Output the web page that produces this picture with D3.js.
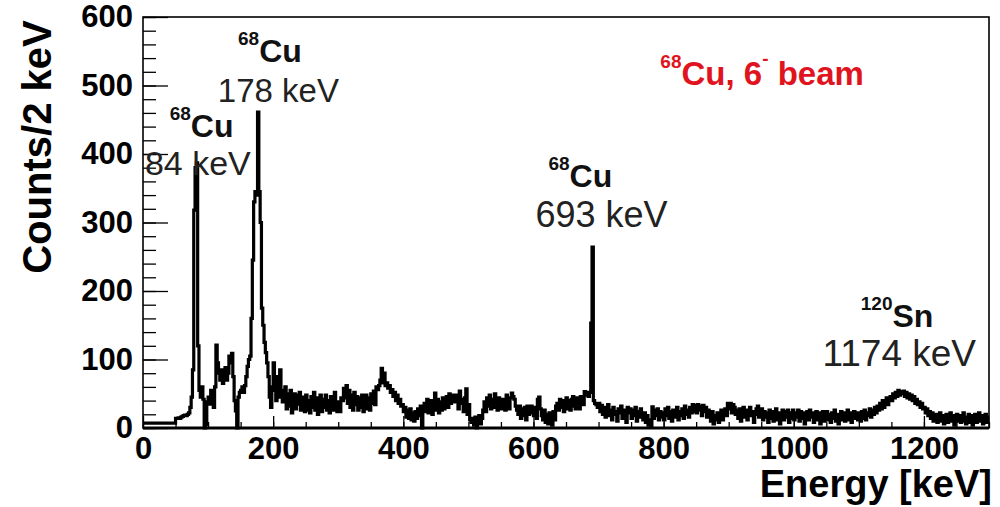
<!DOCTYPE html>
<html>
<head>
<meta charset="utf-8">
<script src="https://cdn.jsdelivr.net/npm/d3@7/dist/d3.min.js"></script>
<style>
  body { margin: 0; background: #fff; }
  svg { display: block; font-family: "Liberation Sans", Arial, Helvetica, sans-serif; }
</style>
</head>
<body>
<svg id="chart" width="1000" height="507"></svg>
<script>
// gamma spectrum, 2 keV bins starting at 0 keV (one row = 50 keV)
const binWidth = 2
const counts = [
  7, 7, 7, 7, 7, 7, 7, 7, 7, 7, 7, 7, 7, 7, 7, 7, 7, 7, 7, 7, 7, 7, 7, 7, 7,
  14, 14, 15, 14, 16, 17, 18, 19, 18, 20, 22, 30, 45, 85, 318, 380, 387, 120, 55, 45, 60, 42, 0, 5, 38,
  45, 35, 55, 40, 30, 60, 121, 95, 80, 70, 85, 65, 78, 88, 70, 80, 105, 95, 109, 75, 40, 25, 0, 45, 52,
  55, 60, 52, 62, 75, 90, 100, 105, 160, 245, 330, 345, 340, 461, 345, 300, 175, 150, 125, 110, 95, 75, 45, 30, 60,
  95, 55, 40, 75, 45, 85, 55, 38, 48, 60, 28, 50, 32, 55, 22, 45, 50, 28, 48, 35, 52, 26, 45, 32, 24,
  48, 26, 40, 22, 46, 30, 52, 26, 44, 20, 38, 48, 24, 42, 30, 48, 26, 40, 22, 46, 32, 26, 52, 34, 24,
  38, 24, 44, 40, 58, 44, 62, 36, 55, 30, 48, 26, 52, 34, 46, 26, 44, 30, 48, 24, 40, 48, 28, 44, 26,
  50, 36, 54, 34, 60, 56, 62, 70, 87, 66, 80, 62, 66, 58, 62, 52, 56, 46, 52, 40, 48, 36, 42, 32, 34,
  24, 30, 16, 26, 14, 28, 12, 22, 10, 24, 14, 28, 18, 32, 0, 26, 36, 24, 42, 22, 34, 40, 20, 38, 51,
  26, 42, 22, 38, 26, 44, 28, 40, 46, 30, 50, 36, 40, 48, 38, 42, 48, 28, 54, 36, 42, 24, 44, 57, 20,
  34, 12, 8, 14, 4, 16, 0, 12, 18, 6, 14, 26, 38, 24, 44, 32, 48, 28, 42, 30, 50, 34, 26, 44, 32,
  28, 42, 32, 26, 48, 34, 28, 44, 51, 46, 42, 32, 26, 20, 32, 14, 28, 18, 30, 12, 32, 20, 26, 32, 22,
  18, 30, 14, 42, 45, 28, 18, 12, 26, 8, 20, 6, 22, 10, 4, 24, 12, 32, 36, 26, 42, 30, 40, 24, 36,
  44, 28, 40, 26, 42, 46, 32, 28, 44, 36, 28, 46, 38, 34, 53, 48, 52, 46, 52, 153, 264, 40, 36, 34, 30,
  36, 24, 33, 20, 30, 16, 28, 34, 18, 26, 12, 30, 20, 24, 10, 28, 22, 32, 14, 26, 18, 8, 30, 22, 28,
  14, 26, 18, 30, 10, 24, 16, 28, 20, 12, 22, 8, 18, 4, 12, 2, 31, 14, 26, 18, 28, 12, 24, 16, 22,
  12, 28, 18, 30, 14, 24, 10, 26, 20, 16, 30, 12, 24, 18, 28, 14, 32, 20, 26, 16, 30, 22, 34, 24, 33,
  22, 34, 26, 32, 18, 33, 24, 30, 16, 26, 20, 10, 24, 6, 18, 12, 22, 8, 20, 26, 12, 22, 28, 18, 36,
  28, 36, 22, 34, 30, 20, 26, 14, 28, 10, 24, 30, 16, 26, 12, 22, 30, 18, 24, 8, 20, 28, 32, 16, 22,
  28, 12, 24, 16, 22, 8, 26, 14, 24, 10, 20, 28, 12, 22, 6, 20, 26, 12, 24, 16, 26, 8, 22, 14, 26,
  12, 22, 16, 26, 10, 24, 14, 22, 6, 18, 24, 12, 26, 16, 22, 8, 20, 24, 12, 22, 6, 18, 24, 10, 20,
  24, 12, 20, 8, 22, 14, 26, 10, 20, 6, 18, 24, 12, 22, 10, 20, 26, 12, 22, 8, 18, 24, 14, 22, 12,
  22, 10, 24, 14, 26, 12, 22, 18, 28, 16, 26, 20, 30, 22, 32, 26, 36, 28, 40, 30, 36, 44, 34, 42, 46,
  40, 50, 44, 52, 46, 55, 48, 53, 50, 54, 46, 52, 44, 50, 42, 48, 40, 46, 36, 42, 34, 38, 30, 36, 28,
  30, 22, 28, 18, 24, 14, 22, 10, 18, 20, 8, 16, 22, 10, 18, 6, 16, 20, 8, 18, 22, 10, 18, 4, 16,
  20, 10, 18, 8, 16, 22, 10, 6, 16, 20, 8, 18, 4, 14, 20, 8, 16, 22, 10, 18, 6, 16, 20, 8, 16
]

const xTicks = [0, 200, 400, 600, 800, 1000, 1200]
const xMinorTicks = d3.range(0, 1301, 50)
const yTicks = [0, 100, 200, 300, 400, 500, 600]
const yMinorTicks = d3.range(0, 601, 20)

// peak labels, anchored in data coordinates (keV, counts)
const peakLabels = [
  { sup: '68', el: 'Cu', at: [41, 425], line: '84 keV', lineAt: [3, 369], size: 34 },
  { sup: '68', el: 'Cu', at: [146, 534], line: '178 keV', lineAt: [115, 476], size: 33 },
  { sup: '68', el: 'Cu', at: [623, 352], line: '693 keV', lineAt: [603, 293], size: 36 },
  { sup: '120', el: 'Sn', at: [1103, 147], line: '1174 keV', lineAt: [1044, 90], size: 37 }
]

const margin = { top: 17, right: 11, bottom: 79, left: 143 }
const width = 1000 - margin.left - margin.right
const height = 507 - margin.top - margin.bottom

const svg = d3.select('#chart')
const g = svg.append('g').attr('transform', 'translate(' + margin.left + ',' + margin.top + ')')

const x = d3.scaleLinear().domain([0, 1300]).range([0, width])
const y = d3.scaleLinear().domain([0, 600]).range([height, 0])

// histogram as a step line
const pts = counts.map((c, i) => [i * binWidth, c])
pts.push([counts.length * binWidth, counts[counts.length - 1]])

const line = d3.line()
  .x(d => x(d[0]))
  .y(d => y(d[1]))
  .curve(d3.curveStepAfter)

g.append('path')
  .datum(pts)
  .attr('fill', 'none')
  .attr('stroke', '#000')
  .attr('stroke-width', 3.2)
  .attr('stroke-linejoin', 'miter')
  .attr('d', line)

// axes (ticks pointing inside the frame)
const tickFont = g => g.selectAll('text')
  .attr('font-size', 31)
  .attr('font-weight', 'bold')
  .attr('fill', '#000')

g.append('g')
  .attr('class', 'axis axis--x-minor')
  .attr('transform', 'translate(0,' + height + ')')
  .call(d3.axisBottom(x).tickValues(xMinorTicks).tickSize(-6).tickFormat(''))

g.append('g')
  .attr('class', 'axis axis--x')
  .attr('transform', 'translate(0,' + height + ')')
  .call(d3.axisBottom(x).tickValues(xTicks).tickSize(-12).tickPadding(9).tickFormat(d3.format('d')))
  .call(tickFont)

g.append('g')
  .attr('class', 'axis axis--y-minor')
  .call(d3.axisLeft(y).tickValues(yMinorTicks).tickSize(-13).tickFormat(''))

g.append('g')
  .attr('class', 'axis axis--y')
  .call(d3.axisLeft(y).tickValues(yTicks).tickSize(-25).tickPadding(10).tickFormat(d3.format('d')))
  .call(tickFont)

g.selectAll('.axis path.domain').remove()
g.selectAll('.axis line').attr('stroke', '#000').attr('stroke-width', 1.3)

// frame
g.append('rect')
  .attr('width', width)
  .attr('height', height)
  .attr('fill', 'none')
  .attr('stroke', '#000')
  .attr('stroke-width', 1.6)

g.append('line')
  .attr('x1', 0).attr('x2', width)
  .attr('y1', height).attr('y2', height)
  .attr('stroke', '#000')
  .attr('stroke-width', 3)

// axis titles
svg.append('text')
  .attr('transform', 'translate(51,' + (margin.top + 130) + ') rotate(-90)')
  .attr('text-anchor', 'middle')
  .attr('font-size', 40)
  .attr('font-weight', 'bold')
  .text('Counts/2 keV')

svg.append('text')
  .attr('x', margin.left + width + 3)
  .attr('y', 497)
  .attr('text-anchor', 'end')
  .attr('font-size', 38)
  .attr('font-weight', 'bold')
  .text('Energy [keV]')

// peak annotations
const ann = g.selectAll('.peak').data(peakLabels).enter().append('g').attr('class', 'peak')

const nuc = ann.append('text')
  .attr('x', d => x(d.at[0]))
  .attr('y', d => y(d.at[1]))
  .attr('font-weight', 'bold')
  .attr('fill', '#111')
nuc.append('tspan')
  .attr('font-size', 19)
  .attr('dy', -17)
  .text(d => d.sup)
nuc.append('tspan')
  .attr('font-size', 32)
  .attr('dy', 17)
  .text(d => d.el)

ann.append('text')
  .attr('x', d => x(d.lineAt[0]))
  .attr('y', d => y(d.lineAt[1]))
  .attr('font-size', d => d.size)
  .attr('fill', '#222')
  .text(d => d.line)

// beam label
const beam = g.append('text')
  .attr('x', x(795))
  .attr('y', y(501))
  .attr('font-weight', 'bold')
  .attr('fill', '#e0141e')
beam.append('tspan').attr('font-size', 19).attr('dy', -17).text('68')
beam.append('tspan').attr('font-size', 33).attr('dy', 17).text('Cu, 6')
beam.append('tspan').attr('font-size', 19).attr('dy', -20).text('-')
beam.append('tspan').attr('font-size', 33).attr('dy', 20).text(' beam')
</script>
</body>
</html>
